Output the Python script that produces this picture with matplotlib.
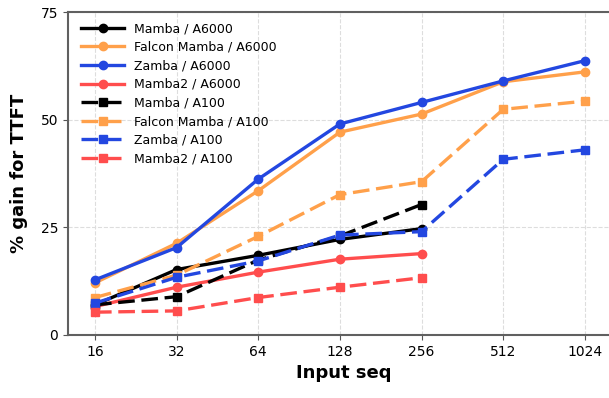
import matplotlib.pyplot as plt
import numpy as np

# x axis: input sequence lengths
seq = ['16', '32', '64', '128', '256', '512', '1024']

# % gain for TTFT
mamba_a6000 = [7.0, 15.2, 18.5, 22.2, 24.7]
falcon_a6000 = [12.1, 21.3, 33.5, 47.1, 51.3, 58.8, 61.1]
zamba_a6000 = [12.8, 20.3, 36.2, 49.0, 54.0, 59.0, 63.7]
mamba2_a6000 = [6.6, 11.1, 14.6, 17.6, 18.9]
mamba_a100 = [7.0, 8.9, 17.4, 23.0, 30.3]
falcon_a100 = [8.7, 13.9, 22.9, 32.6, 35.6, 52.4, 54.3]
zamba_a100 = [7.4, 13.4, 17.2, 23.2, 24.0, 40.8, 43.0]
mamba2_a100 = [5.3, 5.6, 8.7, 11.1, 13.3]

black = 'black'
orange = '#FFA04A'
blue = '#2347E0'
red = '#FF4D4D'

fig = plt.figure(figsize=(6.09, 3.98), dpi=100)
ax = fig.add_axes([68/609, 1-335/398, 552/609, 323/398])

series = [
    (mamba_a6000, black, '-', 'o', 'Mamba / A6000'),
    (falcon_a6000, orange, '-', 'o', 'Falcon Mamba / A6000'),
    (zamba_a6000, blue, '-', 'o', 'Zamba / A6000'),
    (mamba2_a6000, red, '-', 'o', 'Mamba2 / A6000'),
    (mamba_a100, black, '--', 's', 'Mamba / A100'),
    (falcon_a100, orange, '--', 's', 'Falcon Mamba / A100'),
    (zamba_a100, blue, '--', 's', 'Zamba / A100'),
    (mamba2_a100, red, '--', 's', 'Mamba2 / A100'),
]
for vals, c, ls, m, lab in series:
    x = np.arange(len(vals))
    line, = ax.plot(x, vals, color=c, linestyle=ls, marker=m, lw=2.4, ms=6, label=lab)
    if ls == '--':
        line.set_dashes((5, 2))

ax.set_xticks(np.arange(len(seq)))
ax.set_xticklabels(seq)
ax.set_xlim(-0.33, 6.43)
ax.set_ylim(0, 75)
ax.set_yticks([0, 25, 50, 75])
ax.tick_params(labelsize=10, color='#555555')
ax.grid(True, linestyle='--', color='#dddddd', lw=0.8)
for s in ax.spines.values():
    s.set_color('#606060')
    s.set_linewidth(1.5)
ax.set_xlabel('Input seq', fontsize=13, fontweight='bold')
ax.set_ylabel('% gain for TTFT', fontsize=13, fontweight='bold', labelpad=9)
ax.legend(loc='upper left', frameon=False, fontsize=9, handlelength=3.4,
          labelspacing=0.45, borderaxespad=0.4, bbox_to_anchor=(0.006, 1.0))

plt.savefig('out.png', dpi=100)
